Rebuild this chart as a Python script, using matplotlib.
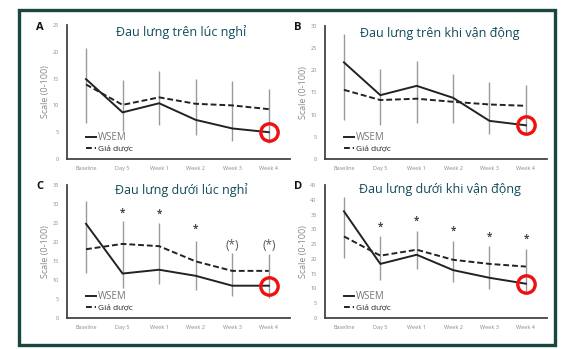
import matplotlib
matplotlib.use("Agg")
import matplotlib.pyplot as plt
from matplotlib.patches import Rectangle

plt.rcParams['font.family'] = ['Open Sans', 'DejaVu Sans']

categories = ["Baseline", "Day 5", "Week 1", "Week 2", "Week 3", "Week 4"]

titles = ["Đau lưng trên lúc nghỉ", "Đau lưng trên khi vận động",
          "Đau lưng dưới lúc nghỉ", "Đau lưng dưới khi vận động"]
letters = ["A", "B", "C", "D"]
ymax = [25, 30, 35, 45]

wsem_A = [14.9, 8.7, 10.4, 7.3, 5.7, 5.0]
placebo_A = [13.9, 10.1, 11.5, 10.3, 10.0, 9.3]
err_lo_A = [6.7, 5.3, 6.3, 4.5, 3.3, 3.0]
err_hi_A = [20.8, 14.7, 16.5, 15.0, 14.5, 13.1]

wsem_B = [21.8, 14.4, 16.5, 13.8, 8.6, 7.6]
placebo_B = [15.6, 13.3, 13.6, 12.9, 12.3, 12.0]
err_lo_B = [8.7, 7.7, 8.1, 8.1, 5.7, 5.5]
err_hi_B = [28.1, 20.3, 22.0, 19.1, 17.4, 16.7]

wsem_C = [24.8, 11.7, 12.7, 11.1, 8.5, 8.5]
placebo_C = [18.1, 19.5, 18.9, 14.9, 12.4, 12.4]
err_lo_C = [11.8, 7.9, 9.0, 7.3, 5.7, 5.2]
err_hi_C = [30.8, 25.5, 24.9, 20.3, 17.1, 16.9]
sig_C = ["", "*", "*", "*", "(*)", "(*)"]
sig_y_C = [0, 27.7, 27.4, 23.4, 19.0, 19.0]

wsem_D = [36.1, 18.3, 21.4, 16.2, 13.6, 11.6]
placebo_D = [27.6, 21.1, 23.1, 19.7, 18.3, 17.4]
err_lo_D = [20.4, 12.7, 16.6, 12.1, 9.9, 8.0]
err_hi_D = [41.1, 27.6, 29.4, 25.9, 24.2, 23.2]
sig_D = ["", "*", "*", "*", "*", "*"]
sig_y_D = [0, 30.7, 32.7, 29.2, 27.3, 26.5]

panels = [
    (wsem_A, placebo_A, err_lo_A, err_hi_A, None, None),
    (wsem_B, placebo_B, err_lo_B, err_hi_B, None, None),
    (wsem_C, placebo_C, err_lo_C, err_hi_C, sig_C, sig_y_C),
    (wsem_D, placebo_D, err_lo_D, err_hi_D, sig_D, sig_y_D),
]

W, H = 569, 349
fig = plt.figure(figsize=(W / 100, H / 100), dpi=100)
fig.patch.set_facecolor("white")

# outer frame
fig.patches.append(Rectangle((18.5 / W, (H - 344.5) / H), (555 - 18.5) / W, (344.5 - 9.5) / H,
                             transform=fig.transFigure, fill=False,
                             edgecolor="#17473f", linewidth=2.4))

# axes boxes in pixels: left, top, right, bottom
boxes = [(67, 25, 290, 159), (325, 26, 547, 159),
         (67, 185, 290, 318), (325, 185, 547, 318)]
title_pos = [(181, 32), (440, 33), (181, 190), (440, 190)]
letter_pos = [(40, 28), (298, 28), (40, 186), (298, 186)]

x = list(range(len(categories)))
for i, (wsem, plac, elo, ehi, sig, sigy) in enumerate(panels):
    l, t, r, b = boxes[i]
    ax = fig.add_axes([l / W, (H - b) / H, (r - l) / W, (b - t) / H])
    ax.vlines(x, elo, ehi, colors="#9a9a9a", linewidth=1.0, zorder=1)
    ax.plot(x, wsem, color="#222222", linewidth=1.4, label="WSEM", zorder=3)
    ax.plot(x, plac, color="#222222", linewidth=1.4, linestyle=(0, (3, 1.5)),
            label="Giả dược", zorder=3)
    ax.plot([x[-1]], [wsem[-1]], marker="o", markersize=12.5, markerfacecolor="none",
            markeredgecolor="#ee1111", markeredgewidth=2.4, zorder=5)
    if sig is not None:
        for xi, s, sy in zip(x, sig, sigy):
            if s:
                if s == "*":
                    ax.text(xi, sy, s, ha="center", va="center", fontsize=7,
                            color="#444444", fontweight="bold")
                else:
                    ax.text(xi, sy, s, ha="center", va="center", fontsize=8.5,
                            color="#555555")
    ax.set_xlim(-0.52, 5.58)
    ax.set_ylim(0, ymax[i])
    ax.set_yticks(range(0, ymax[i] + 1, 5))
    ax.set_xticks(x)
    ax.set_xticklabels(categories)
    ax.tick_params(axis="both", length=0, labelsize=4, labelcolor="#8a8a8a")
    ax.tick_params(axis="x", pad=5)
    ax.tick_params(axis="y", pad=6)
    for sp in ["top", "right"]:
        ax.spines[sp].set_visible(False)
    for sp in ["left", "bottom"]:
        ax.spines[sp].set_color("#444444")
        ax.spines[sp].set_linewidth(1.3)
    ax.set_ylabel("Scale (0-100)", fontsize=6.5, color="#8a8a8a", labelpad=2)
    leg = ax.legend(loc="lower left", bbox_to_anchor=(0.06, 0.0), frameon=False,
                    handlelength=1.2, handletextpad=0.2, labelspacing=0.25,
                    borderaxespad=0.3, fontsize=6)
    texts = leg.get_texts()
    texts[0].set_color("#777777")
    texts[0].set_fontsize(7)
    texts[1].set_color("#222222")
    tx, ty = title_pos[i]
    fig.text(tx / W, 1 - ty / H, titles[i], ha="center", va="center",
             fontsize=9, color="#0f4b5a")
    lx, ly = letter_pos[i]
    fig.text(lx / W, 1 - ly / H, letters[i], ha="center", va="center",
             fontsize=8, fontweight="bold", color="#111111")

fig.savefig("out.png", dpi=100, facecolor="white")
